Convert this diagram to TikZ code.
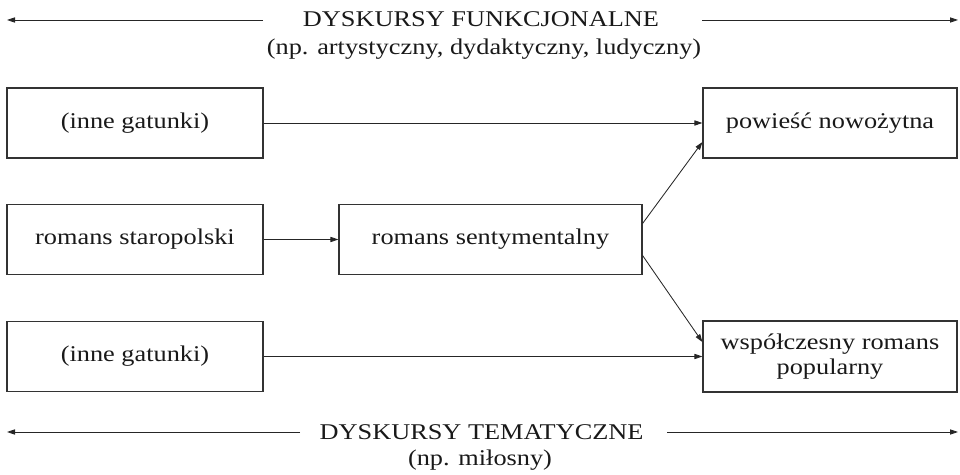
\documentclass[tikz,border=0pt]{standalone}
\usepackage{fontspec}
\setmainfont{Liberation Serif}[FakeStretch=1.17]
\usetikzlibrary{arrows.meta,calc}

\begin{document}
\begin{tikzpicture}[
  >={Triangle[length=2mm,width=1.3mm]},
  every node/.style={font=\fontsize{16}{18}\selectfont, text=black!90},
  genre/.style={draw=black!80, line width=0.8pt, minimum width=6.4cm,
                minimum height=1.75cm, inner sep=0pt, align=center},
  heading/.style={anchor=base, inner sep=0pt},
  flow/.style={->, line width=0.6pt, draw=black!85},
]
  \useasboundingbox (0,0) rectangle (24,11.875);
  % Genre boxes
  \node[genre] (inneA) at (3.375, 8.8) {(inne gatunki)};
  \node[genre] (staro) at (3.375, 5.8875) {romans staropolski};
  \node[genre] (inneB) at (3.375, 2.9625) {(inne gatunki)};
  \node[genre, minimum width=7.575cm] (senty) at (12.2625, 5.8875) {romans sentymentalny};
  \node[genre, minimum width=6.35cm] (powiesc) at (20.75, 8.8) {powieść nowożytna};
  \node[genre, minimum width=6.35cm, minimum height=1.775cm] (wspol) at (20.75, 2.9625)
    {współczesny romans\\popularny};
  % Discourse headings
  \node[heading] (funk) at (12.025, 11.2) {DYSKURSY FUNKCJONALNE};
  \node[heading] (funkEx) at (12.1, 10.52) {(np. artystyczny, dydaktyczny, ludyczny)};
  \node[heading] (tema) at (12.04, 0.8875) {DYSKURSY TEMATYCZNE};
  \node[heading] (temaEx) at (12.0, 0.225) {(np. miłosny)};
  % Heading arrow ends
  \coordinate (funkL0) at (6.575, 11.375);
  \coordinate (funkL1) at (0.175, 11.375);
  \coordinate (funkR0) at (17.55, 11.375);
  \coordinate (funkR1) at (23.95, 11.375);
  \coordinate (temaL0) at (7.5, 1.075);
  \coordinate (temaL1) at (0.175, 1.075);
  \coordinate (temaR0) at (16.675, 1.075);
  \coordinate (temaR1) at (23.95, 1.075);
  \draw[flow] (funkL0) -- (funkL1);
  \draw[flow] (funkR0) -- (funkR1);
  \draw[flow] (temaL0) -- (temaL1);
  \draw[flow] (temaR0) -- (temaR1);
  % Genre flows
  \draw[flow] (inneA) -- (powiesc);
  \draw[flow] (staro) -- (senty);
  \draw[flow] ($(senty.east)+(0,0.4)$) -- ($(powiesc.west)+(0,-0.475)$);
  \draw[flow] ($(senty.east)+(0,-0.4)$) -- ($(wspol.west)+(0,0.36)$);
  \draw[flow] (inneB) -- (wspol);
\end{tikzpicture}
\end{document}
